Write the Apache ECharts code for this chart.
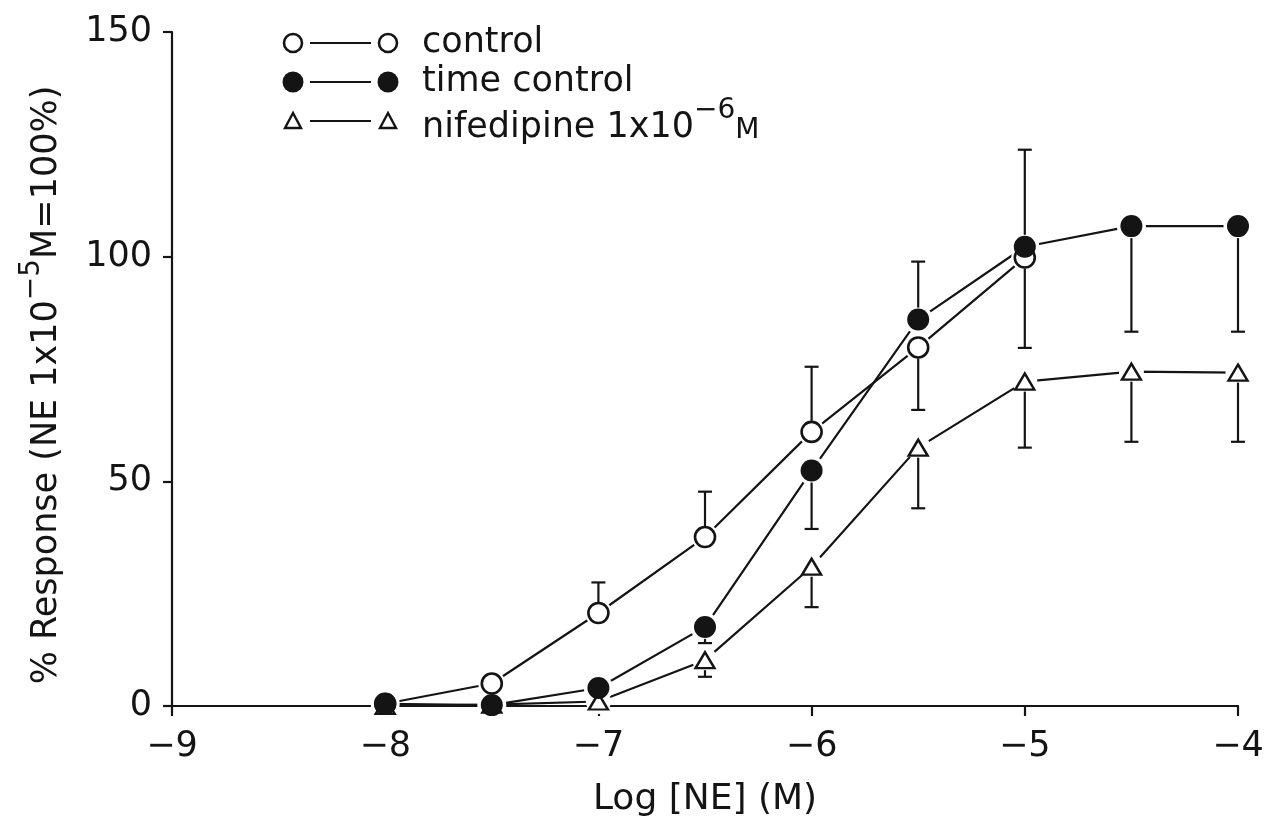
<!DOCTYPE html>
<html>
<head>
<meta charset="utf-8">
<script src="https://cdn.jsdelivr.net/npm/echarts@6/dist/echarts.min.js"></script>
<style>
html,body{margin:0;padding:0;background:#fff;}
#chart{width:1269px;height:829px;}
</style>
</head>
<body>
<div id="chart"></div>
<script>
// Log [NE] (M)
var logNE = [-8, -7.5, -7, -6.5, -6, -5.5, -5, -4.5, -4];
var xTicks = [-9, -8, -7, -6, -5, -4];
var yTicks = [0, 50, 100, 150];

// % response
var controlVals     = [0.5, 5, 20.7, 37.6, 61, 79.8, 99.8, null, null];
var timeControlVals = [0.5, 0.2, 4, 17.6, 52.4, 86, 102.2, 106.8, 106.8];
var nifedipineVals  = [0, 0.3, 1, 10.2, 31, 57.5, 72.2, 74.4, 74.2];

// error bars (signed: + drawn upward, - drawn downward)
var controlErr     = [null, null, 6.8, 10.1, 14.5, -13.9, -20.1, null, null];
var timeControlErr = [null, null, null, -3.6, -13, 12.9, 21.6, -23.5, -23.5];
var nifedipineErr  = [null, null, null, -3.7, -9, -13.5, -14.7, -15.6, -15.4];

var legendNames = ['control', 'time control', 'nifedipine 1x10'];

var FONT = 'DejaVu Sans';
var INK = '#141414';

function pairs(vals) {
  var out = [];
  for (var i = 0; i < logNE.length; i++) {
    if (vals[i] !== null) out.push([logNE[i], vals[i]]);
  }
  return out;
}
function errData(vals, errs) {
  var out = [];
  for (var i = 0; i < logNE.length; i++) {
    if (vals[i] !== null && errs[i] !== null) out.push([logNE[i], vals[i], vals[i] + errs[i], errs[i] > 0 ? 1 : -1]);
  }
  return out;
}

function errRender(gap) {
  return function (params, api) {
    var x = api.value(0), v = api.value(1), e = api.value(2), dir = api.value(3);
    var p0 = api.coord([x, v]);
    var p1 = api.coord([x, e]);
    var startY = p0[1] - dir * gap;
    var cap = 7;
    return {
      type: 'group',
      children: [
        { type: 'line', shape: { x1: p0[0], y1: startY, x2: p1[0], y2: p1[1] }, style: { stroke: INK, lineWidth: 2.2 } },
        { type: 'line', shape: { x1: p1[0] - cap, y1: p1[1], x2: p1[0] + cap, y2: p1[1] }, style: { stroke: INK, lineWidth: 2.2 } }
      ]
    };
  };
}

function lineSeries(vals) {
  return { type: 'line', data: pairs(vals), symbol: 'none', lineStyle: { color: INK, width: 2.2 }, z: 1, silent: true, animation: false };
}
function haloSeries(vals, size) {
  return { type: 'scatter', data: pairs(vals), symbol: 'circle', symbolSize: size, itemStyle: { color: '#fff', opacity: 1 }, z: 2, silent: true, animation: false };
}
function errSeries(vals, errs, gap) {
  return { type: 'custom', data: errData(vals, errs), renderItem: errRender(gap), z: 3, silent: true, animation: false };
}

var chart = echarts.init(document.getElementById('chart'), null, { renderer: 'canvas' });

var legendRowsY = [43, 82, 121];
var lx1 = 293, lx2 = 388, ltx = 422;
function legendRow(y, kind, richText) {
  var kids = [];
  kids.push({ type: 'line', shape: { x1: lx1 + 17, y1: y, x2: lx2 - 17, y2: y }, style: { stroke: INK, lineWidth: 2.2 } });
  [lx1, lx2].forEach(function (cx) {
    if (kind === 'open') kids.push({ type: 'circle', shape: { cx: cx, cy: y, r: 9 }, style: { fill: '#fff', stroke: INK, lineWidth: 2.6 } });
    else if (kind === 'filled') kids.push({ type: 'circle', shape: { cx: cx, cy: y, r: 10.5 }, style: { fill: INK } });
    else kids.push({ type: 'polygon', shape: { points: [[cx, y - 8], [cx - 8, y + 7], [cx + 8, y + 7]] }, style: { fill: '#fff', stroke: INK, lineWidth: 2.4 } });
  });
  kids.push({ type: 'text', x: ltx, y: y, style: richText });
  return kids;
}

var LF = 35;
var graphics = [].concat(
  legendRow(legendRowsY[0], 'open', { text: legendNames[0], font: LF + 'px ' + FONT, fill: INK, verticalAlign: 'middle' }),
  legendRow(legendRowsY[1], 'filled', { text: legendNames[1], font: LF + 'px ' + FONT, fill: INK, verticalAlign: 'middle' }),
  legendRow(legendRowsY[2], 'tri', {
    text: '{a|' + legendNames[2] + '}{s|\u22126}{m|M}',
    fill: INK, verticalAlign: 'middle',
    rich: {
      a: { fontFamily: FONT, fontSize: LF, lineHeight: 48, verticalAlign: 'bottom', fill: INK },
      s: { fontFamily: FONT, fontSize: 28, lineHeight: 28, verticalAlign: 'top', fill: INK },
      m: { fontFamily: FONT, fontSize: 28, lineHeight: 45, verticalAlign: 'bottom', fill: INK }
    }
  })
);

var option = {
  backgroundColor: '#fff',
  animation: false,
  grid: { left: 172, right: 31, top: 32, bottom: 123, containLabel: false },
  xAxis: {
    type: 'value', min: xTicks[0], max: xTicks[xTicks.length - 1], interval: 1,
    name: 'Log [NE] (M)', nameLocation: 'middle', nameGap: 76,
    nameTextStyle: { fontFamily: FONT, fontSize: 36, color: INK },
    axisLine: { lineStyle: { color: INK, width: 2.2 } },
    axisTick: { inside: false, length: 10, lineStyle: { color: INK, width: 2.2 } },
    axisLabel: { margin: 23, fontFamily: FONT, fontSize: 35, color: INK, formatter: function (v) { return String(v).replace('-', '\u2212'); } },
    splitLine: { show: false }
  },
  yAxis: {
    type: 'value', min: yTicks[0], max: yTicks[yTicks.length - 1], interval: 50,
    name: '{a|% Response (NE 1x10}{s|\u22125}{a|M=100%)}',
    nameLocation: 'middle', nameGap: 108,
    nameTextStyle: {
      color: INK,
      padding: [0, 32, 0, 0],
      rich: {
        a: { fontFamily: FONT, fontSize: 35, lineHeight: 46, verticalAlign: 'bottom', color: INK },
        s: { fontFamily: FONT, fontSize: 28, lineHeight: 28, verticalAlign: 'top', color: INK }
      }
    },
    axisLine: { show: true, lineStyle: { color: INK, width: 2.2 } },
    axisTick: { show: true, inside: false, length: 9, lineStyle: { color: INK, width: 2.2 } },
    axisLabel: { margin: 20, fontFamily: FONT, fontSize: 35, color: INK },
    splitLine: { show: false }
  },
  graphic: graphics,
  series: [
    lineSeries(controlVals),
    lineSeries(timeControlVals),
    lineSeries(nifedipineVals),
    haloSeries(controlVals, 27),
    haloSeries(timeControlVals, 29),
    haloSeries(nifedipineVals, 25),
    errSeries(controlVals, controlErr, 11),
    errSeries(timeControlVals, timeControlErr, 12),
    errSeries(nifedipineVals, nifedipineErr, 10),
    { type: 'scatter', name: 'nifedipine', data: pairs(nifedipineVals), symbol: 'triangle', symbolSize: [19, 16],
      itemStyle: { color: '#fff', borderColor: INK, borderWidth: 2.4, opacity: 1 }, z: 4, animation: false },
    { type: 'scatter', name: 'control', data: pairs(controlVals), symbol: 'circle', symbolSize: 20,
      itemStyle: { color: '#fff', borderColor: INK, borderWidth: 2.6, opacity: 1 }, z: 5, animation: false },
    { type: 'scatter', name: 'time control', data: pairs(timeControlVals), symbol: 'circle', symbolSize: 22,
      itemStyle: { color: INK, opacity: 1 }, z: 6, animation: false }
  ]
};
chart.setOption(option);
</script>
</body>
</html>
